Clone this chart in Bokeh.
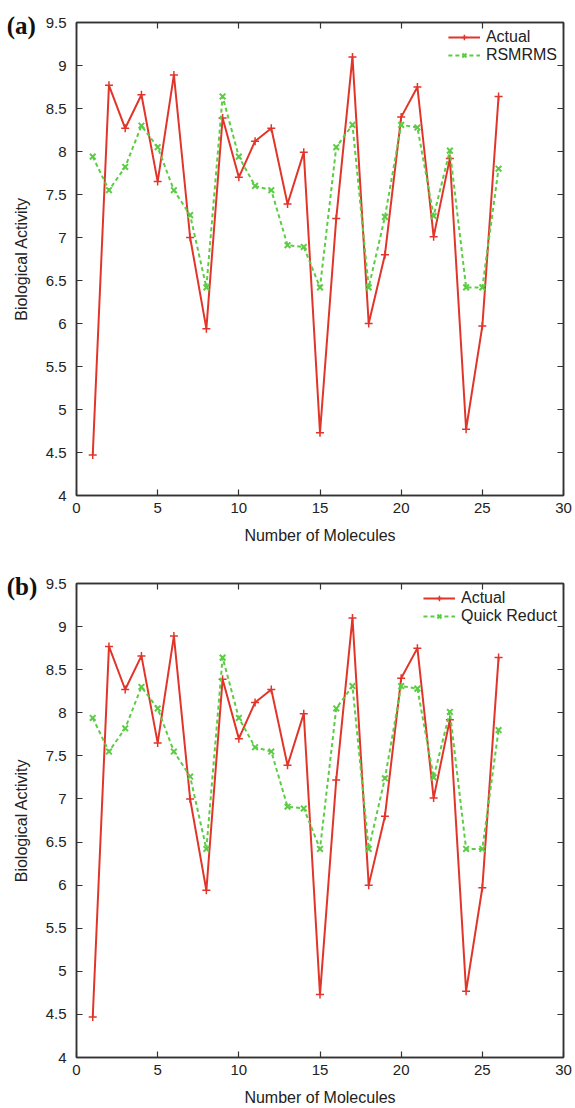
from bokeh.plotting import figure
from bokeh.layouts import column
from bokeh.models import Range1d, LinearAxis, FixedTicker, CustomJSTickFormatter, Legend, LegendItem
from bokeh.core.properties import value
from bokeh.embed import file_html
from bokeh.resources import INLINE

molecules = list(range(1, 27))
actual = [4.47, 8.77, 8.27, 8.66, 7.65, 8.89, 7.00, 5.94, 8.39, 7.70, 8.12, 8.27, 7.39,
          7.99, 4.73, 7.22, 9.10, 6.00, 6.80, 8.40, 8.75, 7.01, 7.92, 4.77, 5.97, 8.64]
rsmrms = [7.94, 7.55, 7.82, 8.30, 8.05, 7.55, 7.26, 6.42, 8.64, 7.94, 7.60, 7.55, 6.91,
          6.89, 6.42, 8.05, 8.31, 6.42, 7.24, 8.31, 8.28, 7.25, 8.01, 6.42, 6.42, 7.80]
quick_reduct = [7.94, 7.55, 7.82, 8.30, 8.05, 7.55, 7.26, 6.42, 8.64, 7.94, 7.60, 7.55, 6.91,
                6.89, 6.42, 8.05, 8.31, 6.42, 7.24, 8.31, 8.28, 7.25, 8.01, 6.42, 6.42, 7.80]
x_ticks = [0, 5, 10, 15, 20, 25, 30]
y_ticks = [4, 4.5, 5, 5.5, 6, 6.5, 7, 7.5, 8, 8.5, 9, 9.5]

RED = "#e2352a"
GREEN = "#5ccc45"
AX = "#333333"
TXT = "#222222"
FONT = "Liberation Sans"


def style_axis(ax, show_labels):
    ax.major_tick_in = 6
    ax.major_tick_out = 0
    ax.minor_tick_in = 0
    ax.minor_tick_out = 0
    ax.axis_line_color = AX
    ax.axis_line_width = 1.5
    ax.major_tick_line_color = AX
    ax.major_tick_line_width = 1.2
    ax.major_label_text_font = FONT
    ax.major_label_text_color = TXT
    if show_labels:
        ax.major_label_text_font_size = "15px"
    else:
        ax.major_label_text_font_size = "1px"
        ax.major_label_text_alpha = 0
        ax.major_label_standoff = 0
    ax.axis_label_text_font = FONT
    ax.axis_label_text_font_style = "normal"
    ax.axis_label_text_color = TXT
    ax.axis_label_text_font_size = "16px"
    ax.formatter = CustomJSTickFormatter(code="return tick.toString();")


def make_panel(tag, series, series_name, height, bottom):
    p = figure(width=575, height=height, output_backend="svg", toolbar_location=None,
               x_range=Range1d(0, 30), y_range=Range1d(4, 9.5),
               min_border_left=76, min_border_right=12, min_border_top=22,
               min_border_bottom=bottom, x_axis_label="Number of Molecules",
               y_axis_label="Biological Activity")
    p.grid.visible = False
    p.outline_line_color = AX
    p.outline_line_width = 1.5
    p.background_fill_color = "white"
    p.border_fill_color = "white"

    for ax in p.xaxis:
        ax.ticker = FixedTicker(ticks=x_ticks)
        style_axis(ax, True)
        ax.major_label_standoff = 7
        ax.axis_label_standoff = 11
    for ax in p.yaxis:
        ax.ticker = FixedTicker(ticks=y_ticks)
        style_axis(ax, True)
        ax.major_label_standoff = 10
        ax.axis_label_standoff = 13

    top_ax = LinearAxis(ticker=FixedTicker(ticks=x_ticks))
    style_axis(top_ax, False)
    p.add_layout(top_ax, "above")
    right_ax = LinearAxis(ticker=FixedTicker(ticks=y_ticks))
    style_axis(right_ax, False)
    p.add_layout(right_ax, "right")

    l1 = p.line(molecules, actual, line_color=RED, line_width=2)
    m1 = p.scatter(molecules, actual, marker="cross", size=8, line_color=RED, line_width=1.5)
    l2 = p.line(molecules, series, line_color=GREEN, line_width=2, line_dash="4 3")
    m2 = p.scatter(molecules, series, marker="x", size=8, line_color=GREEN, line_width=2)

    legend = Legend(items=[LegendItem(label="Actual", renderers=[l1, m1]),
                           LegendItem(label=series_name, renderers=[l2, m2])],
                    location="top_right", border_line_color=None,
                    background_fill_alpha=0, label_text_font=FONT,
                    label_text_font_size="16px", label_text_color=TXT,
                    glyph_width=32, glyph_height=14, spacing=0, padding=4,
                    margin=6, label_height=14, label_standoff=6)
    p.add_layout(legend)

    p.text(x=[-4.3], y=[9.47], text=[tag], text_font=value("Liberation Serif"),
           text_font_style="bold", text_font_size="25px", text_baseline="middle",
           text_color="#111111", level="overlay")
    return p


pa = make_panel("(a)", rsmrms, "RSMRMS", 561, 66)
pb = make_panel("(b)", quick_reduct, "Quick Reduct", 547, 50)

layout = column(pa, pb, spacing=0)
open("out.html", "w").write(file_html(layout, INLINE))
